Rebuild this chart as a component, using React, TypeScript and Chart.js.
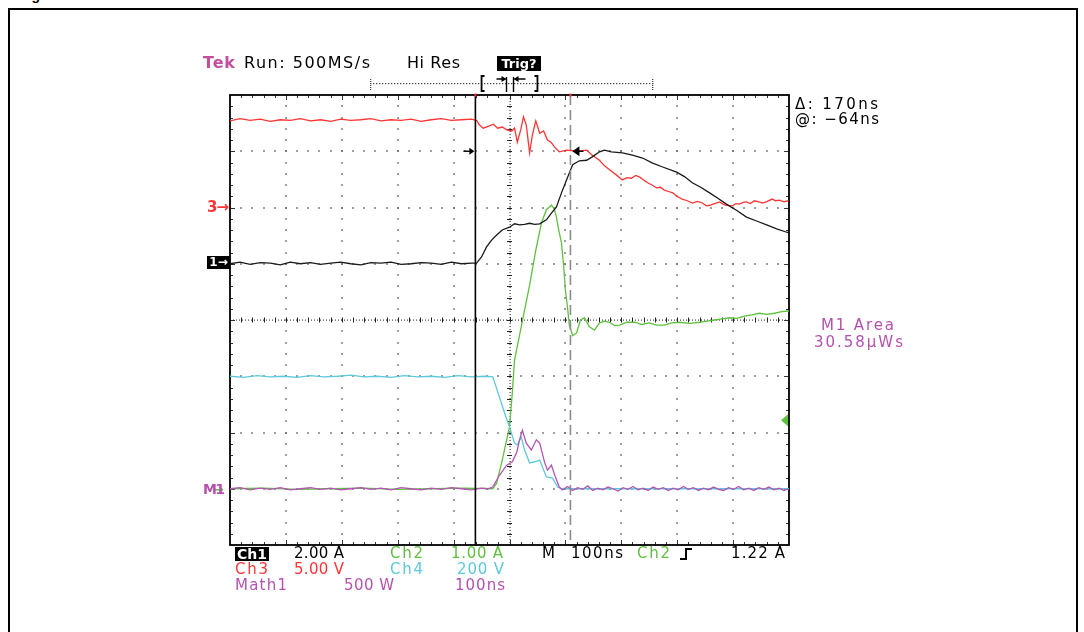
import React, { useEffect, useRef } from 'react';
import { Chart, registerables } from 'chart.js';

Chart.register(...registerables);

const W = 1084;
const H = 632;

// Horizontal: time in ns (100 ns/div, 10 div). Vertical: screen divisions (8 div).
const timeRange = [-500, 500];
const divRange = [-4, 4];

// Ch3 (red, 5.00 V/div) in screen divisions
const ch3Trace: [number, number][] = [
  [-500, 3.54], [-482, 3.58], [-464, 3.55], [-446, 3.57], [-428, 3.53], [-410, 3.56], [-392, 3.55], [-374, 3.58],
  [-356, 3.54], [-338, 3.56], [-320, 3.53], [-302, 3.57], [-284, 3.55], [-266, 3.56], [-248, 3.58], [-230, 3.54],
  [-212, 3.56], [-194, 3.55], [-176, 3.57], [-158, 3.53], [-140, 3.56], [-122, 3.58], [-104, 3.55], [-86, 3.56],
  [-68, 3.57], [-59, 3.55], [-54, 3.47], [-47, 3.41], [-36, 3.45], [-29, 3.48], [-21, 3.41], [-13, 3.43],
  [-5, 3.38], [4, 3.36], [9, 3.41], [14, 3.16], [20, 3.38], [25, 3.61], [30, 3.47], [36, 2.97], [41, 3.29],
  [47, 3.54], [54, 3.32], [61, 3.36], [68, 3.2], [75, 3.15], [82, 3.06], [89, 2.99], [102, 3.02], [120, 3.0],
  [138, 3.02], [148, 2.93], [161, 2.84], [170, 2.74], [179, 2.67], [191, 2.58], [202, 2.49], [210, 2.53],
  [218, 2.52], [226, 2.57], [233, 2.54], [240, 2.49], [247, 2.44], [255, 2.4], [263, 2.35], [270, 2.36],
  [277, 2.31], [286, 2.28], [292, 2.26], [299, 2.2], [309, 2.15], [318, 2.12], [327, 2.08], [336, 2.11],
  [345, 2.08], [352, 2.03], [358, 2.04], [367, 2.07], [376, 2.1], [382, 2.06], [388, 2.04], [399, 2.03],
  [405, 2.07], [411, 2.06], [418, 2.09], [424, 2.1], [431, 2.07], [438, 2.12], [446, 2.1], [453, 2.08],
  [461, 2.11], [470, 2.15], [476, 2.12], [483, 2.13], [491, 2.1], [499, 2.12],
];

// Ch1 (black, 2.00 A/div)
const ch1Trace: [number, number][] = [
  [-500, 1.0], [-482, 1.03], [-464, 0.99], [-446, 1.02], [-428, 1.01], [-410, 0.98], [-392, 1.03], [-374, 1.0],
  [-356, 1.02], [-338, 0.99], [-320, 1.01], [-302, 1.03], [-284, 1.0], [-266, 0.98], [-248, 1.02], [-230, 1.01],
  [-212, 1.03], [-194, 0.99], [-176, 1.0], [-158, 1.02], [-140, 1.01], [-122, 0.99], [-104, 1.03], [-86, 1.0],
  [-68, 1.01], [-59, 1.01], [-50, 1.12], [-41, 1.3], [-32, 1.42], [-23, 1.51], [-13, 1.6], [0, 1.65], [9, 1.71],
  [18, 1.69], [27, 1.7], [36, 1.72], [45, 1.7], [54, 1.71], [66, 1.78], [75, 1.9], [84, 2.01], [93, 2.26],
  [102, 2.49], [113, 2.76], [125, 2.83], [138, 2.84], [148, 2.9], [161, 2.99], [170, 3.02], [182, 2.99],
  [202, 2.97], [220, 2.93], [238, 2.88], [256, 2.79], [274, 2.72], [299, 2.63], [313, 2.55], [327, 2.44],
  [342, 2.36], [358, 2.26], [372, 2.17], [388, 2.06], [406, 1.95], [424, 1.83], [442, 1.76], [460, 1.69],
  [478, 1.62], [496, 1.56], [500, 1.55],
];

// Ch2 (green, 1.00 A/div)
const ch2Trace: [number, number][] = [
  [-500, -3.0], [-440, -2.99], [-380, -3.01], [-320, -3.0], [-260, -2.99], [-200, -3.01], [-140, -3.0],
  [-80, -2.99], [-30, -3.0], [-23, -2.9], [-13, -2.49], [0, -1.9], [5, -1.3], [9, -0.71], [18, -0.27],
  [27, 0.18], [36, 0.62], [47, 1.24], [57, 1.72], [66, 1.96], [75, 2.04], [80, 1.98], [84, 1.83], [88, 1.6],
  [93, 1.37], [97, 0.95], [100, 0.53], [104, 0.2], [107, -0.09], [113, -0.28], [120, -0.23], [127, 0.0],
  [134, 0.04], [143, -0.12], [152, -0.18], [161, -0.05], [170, -0.02], [179, -0.04], [188, -0.1], [197, -0.09],
  [210, -0.04], [224, -0.04], [237, -0.08], [250, -0.05], [263, -0.09], [277, -0.09], [290, -0.05], [304, -0.04],
  [322, -0.06], [340, -0.04], [353, -0.02], [367, 0.0], [380, 0.02], [394, 0.04], [407, 0.03], [420, 0.07],
  [434, 0.09], [447, 0.12], [460, 0.1], [474, 0.12], [487, 0.15], [500, 0.16],
];

// Ch4 (cyan, 200 V/div)
const ch4Trace: [number, number][] = [
  [-500, -1.0], [-476, -1.02], [-452, -0.99], [-428, -1.01], [-404, -1.0], [-380, -1.02], [-356, -0.99],
  [-332, -1.01], [-308, -1.0], [-284, -0.98], [-260, -1.01], [-236, -1.0], [-212, -1.02], [-188, -0.99],
  [-164, -1.01], [-140, -1.0], [-116, -1.02], [-92, -0.99], [-68, -1.01], [-44, -1.0], [-30, -1.01],
  [-18, -1.37], [-9, -1.65], [0, -1.9], [9, -2.19], [14, -2.22], [21, -2.08], [27, -2.31], [36, -2.54],
  [45, -2.52], [54, -2.49], [66, -2.79], [77, -2.81], [86, -2.97], [93, -3.0], [150, -3.0], [250, -3.0],
  [350, -3.0], [450, -3.0], [500, -3.0],
];

// Math1 (magenta, 500 W/div)
const math1Trace: [number, number][] = [
  [-500, -3.0], [-482, -2.98], [-464, -3.02], [-446, -2.99], [-428, -3.01], [-410, -2.98], [-392, -3.02],
  [-374, -3.0], [-356, -2.98], [-338, -3.01], [-320, -2.99], [-302, -3.02], [-284, -3.0], [-266, -2.98],
  [-248, -3.01], [-230, -2.99], [-212, -3.02], [-194, -2.98], [-176, -3.0], [-158, -3.02], [-140, -2.99],
  [-122, -3.01], [-104, -2.98], [-86, -3.0], [-68, -3.02], [-50, -2.99], [-39, -3.0], [-30, -2.97],
  [-18, -2.76], [-5, -2.58], [5, -2.52], [13, -2.35], [18, -2.13], [23, -1.96], [30, -2.19], [39, -2.31],
  [48, -2.13], [54, -2.19], [63, -2.54], [68, -2.67], [75, -2.58], [81, -2.76], [89, -2.97], [95, -3.02],
  [104, -2.96], [113, -3.03], [122, -2.98], [131, -3.01], [140, -2.95], [149, -3.03], [158, -2.99],
  [167, -3.02], [176, -2.97], [185, -3.0], [194, -3.04], [203, -2.98], [212, -3.01], [221, -2.96],
  [230, -3.02], [239, -2.99], [248, -3.03], [257, -2.97], [266, -3.01], [275, -2.98], [284, -3.03],
  [293, -2.99], [302, -3.02], [311, -2.96], [320, -3.01], [329, -2.98], [338, -3.03], [347, -2.99],
  [356, -3.02], [365, -2.97], [374, -3.01], [383, -3.03], [392, -2.98], [401, -3.01], [410, -2.96],
  [419, -3.02], [428, -2.99], [437, -3.03], [446, -2.98], [455, -3.01], [464, -2.97], [473, -3.02],
  [482, -2.99], [491, -3.03], [499, -3.0],
];

const cursorTimes = [-61, 109];
const triggerLevelDiv = -1.78;
const barMarkerDiv = 3;

const COLORS = {
  ch1: '#1a1a1a',
  ch2: '#5fc040',
  ch3: '#ff3535',
  ch4: '#5cc9dc',
  math: '#b555b3',
  magentaText: '#b552b0',
  tek: '#c24f9e',
};

const FONT = '"DejaVu Sans", Verdana, sans-serif';
const measureCtx = typeof document !== 'undefined' ? document.createElement('canvas').getContext('2d') : null;

function spacingFor(text: string, size: number, bold: boolean, w?: number) {
  if (!w || !measureCtx || text.length < 2) return 0;
  measureCtx.font = `${bold ? 'bold ' : ''}${size}px ${FONT}`;
  const m = measureCtx.measureText(text).width;
  return (w - m) / (text.length - 1);
}

function Txt(props: { x: number; base: number; size: number; text: string; color?: string; w?: number; bold?: boolean }) {
  const { x, base, size, text, color = '#000', w, bold = false } = props;
  const ls = spacingFor(text, size, bold, w);
  return (
    <div
      style={{
        position: 'absolute',
        left: x,
        top: base - 0.846 * size,
        fontFamily: FONT,
        fontSize: size,
        fontWeight: bold ? 700 : 400,
        lineHeight: `${size}px`,
        height: size,
        color,
        letterSpacing: ls,
        whiteSpace: 'pre',
      }}
    >
      {text}
    </div>
  );
}

function Box(props: { x: number; y: number; w: number; h: number; text: string; size: number }) {
  const { x, y, w, h, text, size } = props;
  return (
    <div
      style={{
        position: 'absolute',
        left: x,
        top: y,
        width: w,
        height: h,
        background: '#000',
        color: '#fff',
        fontFamily: FONT,
        fontWeight: 700,
        fontSize: size,
        lineHeight: `${h}px`,
        textAlign: 'center',
        whiteSpace: 'pre',
        overflow: 'hidden',
      }}
    >
      {text}
    </div>
  );
}

const scopePlugin = {
  id: 'scopeGraticule',
  beforeDatasetsDraw(chart: any) {
    const { ctx, chartArea: a } = chart;
    const dx = (a.right - a.left) / 10;
    const dy = (a.bottom - a.top) / 8;
    ctx.save();
    ctx.fillStyle = '#6a6a6a';
    for (let i = 1; i < 10; i++) {
      if (i === 5) continue;
      const x = a.left + i * dx;
      for (let k = 1; k < 40; k++) {
        const y = a.top + (k * dy) / 5;
        ctx.fillRect(Math.round(x) - 0.8, Math.round(y) - 0.8, 1.6, 1.6);
      }
    }
    for (let j = 1; j < 8; j++) {
      if (j === 4) continue;
      const y = a.top + j * dy;
      for (let k = 1; k < 50; k++) {
        const x = a.left + (k * dx) / 5;
        ctx.fillRect(Math.round(x) - 0.8, Math.round(y) - 0.8, 1.6, 1.6);
      }
    }
    const cx = a.left + 5 * dx;
    const cy = a.top + 4 * dy;
    ctx.fillStyle = '#444';
    for (let x = a.left; x <= a.right; x += 3) ctx.fillRect(Math.round(x), Math.round(cy) - 0.5, 1, 1.2);
    for (let y = a.top; y <= a.bottom; y += 3) ctx.fillRect(Math.round(cx) - 0.5, Math.round(y), 1.2, 1);
    ctx.strokeStyle = '#222';
    ctx.lineWidth = 1;
    ctx.beginPath();
    for (let k = 1; k < 50; k++) {
      const x = Math.round(a.left + (k * dx) / 5) + 0.5;
      ctx.moveTo(x, cy - 2.5);
      ctx.lineTo(x, cy + 2.5);
    }
    for (let k = 1; k < 40; k++) {
      const y = Math.round(a.top + (k * dy) / 5) + 0.5;
      ctx.moveTo(cx - 2.5, y);
      ctx.lineTo(cx + 2.5, y);
    }
    ctx.stroke();
    ctx.strokeStyle = '#333';
    ctx.beginPath();
    for (let k = 1; k < 50; k++) {
      const x = Math.round(a.left + (k * dx) / 5) + 0.5;
      const len = k % 5 === 0 ? 5 : 3;
      ctx.moveTo(x, a.top);
      ctx.lineTo(x, a.top + len);
      ctx.moveTo(x, a.bottom);
      ctx.lineTo(x, a.bottom - len);
    }
    for (let k = 1; k < 40; k++) {
      const y = Math.round(a.top + (k * dy) / 5) + 0.5;
      const len = k % 5 === 0 ? 5 : 3;
      ctx.moveTo(a.left, y);
      ctx.lineTo(a.left + len, y);
      ctx.moveTo(a.right, y);
      ctx.lineTo(a.right - len, y);
    }
    ctx.stroke();
    ctx.strokeStyle = '#000';
    ctx.lineWidth = 1.8;
    ctx.strokeRect(a.left, a.top, a.right - a.left, a.bottom - a.top);
    ctx.restore();
  },
  afterDatasetsDraw(chart: any) {
    const { ctx, chartArea: a, scales } = chart;
    const xs = scales.x;
    const ys = scales.y;
    const dx = (a.right - a.left) / 10;
    const c1 = xs.getPixelForValue(cursorTimes[0]);
    const c2 = xs.getPixelForValue(cursorTimes[1]);
    ctx.save();
    ctx.strokeStyle = '#000';
    ctx.lineWidth = 1.6;
    ctx.beginPath();
    ctx.moveTo(c1, a.top);
    ctx.lineTo(c1, a.bottom);
    ctx.stroke();
    ctx.strokeStyle = '#8c8c8c';
    ctx.setLineDash([10, 5]);
    ctx.beginPath();
    ctx.moveTo(c2, a.top);
    ctx.lineTo(c2, a.bottom);
    ctx.stroke();
    ctx.setLineDash([]);
    ctx.fillStyle = '#ff3030';
    ctx.fillRect(c1 - 1, a.top - 1.5, 2, 3);
    ctx.fillRect(c2 - 1, a.top - 1.5, 2, 3);
    const yb = ys.getPixelForValue(barMarkerDiv);
    ctx.strokeStyle = '#000';
    ctx.fillStyle = '#000';
    ctx.lineWidth = 1.4;
    ctx.beginPath();
    ctx.moveTo(c1 - 12, yb);
    ctx.lineTo(c1 - 3, yb);
    ctx.stroke();
    ctx.beginPath();
    ctx.moveTo(c1 - 1, yb);
    ctx.lineTo(c1 - 6, yb - 3.5);
    ctx.lineTo(c1 - 6, yb + 3.5);
    ctx.closePath();
    ctx.fill();
    ctx.beginPath();
    ctx.moveTo(c2 + 2, yb);
    ctx.lineTo(c2 + 9, yb - 5);
    ctx.lineTo(c2 + 9, yb + 5);
    ctx.closePath();
    ctx.fill();
    ctx.beginPath();
    ctx.moveTo(c2 + 8, yb);
    ctx.lineTo(c2 + 13, yb);
    ctx.stroke();
    const yt = ys.getPixelForValue(triggerLevelDiv);
    ctx.fillStyle = COLORS.ch2;
    ctx.beginPath();
    ctx.moveTo(a.right - 8, yt);
    ctx.lineTo(a.right - 1, yt - 6);
    ctx.lineTo(a.right - 1, yt + 6);
    ctx.closePath();
    ctx.fill();
    const ry = a.top - 12;
    const rx0 = a.left + 2.5 * dx;
    const rx1 = a.left + 7.55 * dx;
    ctx.fillStyle = '#444';
    for (let x = rx0; x <= rx1; x += 3) ctx.fillRect(Math.round(x), Math.round(ry), 1.3, 1.2);
    for (let y = ry - 4; y <= ry + 6; y += 2) {
      ctx.fillRect(Math.round(rx0), y, 1.3, 1);
      ctx.fillRect(Math.round(rx1), y, 1.3, 1);
    }
    const b0 = a.left + 4.5 * dx;
    const b1 = a.left + 5.5 * dx;
    const cx = a.left + 5 * dx;
    ctx.strokeStyle = '#000';
    ctx.lineWidth = 1.8;
    ctx.beginPath();
    ctx.moveTo(b0 + 3, ry - 7);
    ctx.lineTo(b0, ry - 7);
    ctx.lineTo(b0, ry + 8);
    ctx.lineTo(b0 + 3, ry + 8);
    ctx.moveTo(b1 - 3, ry - 7);
    ctx.lineTo(b1, ry - 7);
    ctx.lineTo(b1, ry + 8);
    ctx.lineTo(b1 - 3, ry + 8);
    ctx.stroke();
    ctx.lineWidth = 1.4;
    ctx.beginPath();
    ctx.moveTo(cx - 3, ry - 6);
    ctx.lineTo(cx - 3, ry + 9);
    ctx.moveTo(cx + 4, ry - 6);
    ctx.lineTo(cx + 4, ry + 9);
    ctx.moveTo(cx - 13, ry - 4);
    ctx.lineTo(cx - 4, ry - 4);
    ctx.moveTo(cx + 16, ry - 4);
    ctx.lineTo(cx + 5, ry - 4);
    ctx.stroke();
    ctx.fillStyle = '#000';
    ctx.beginPath();
    ctx.moveTo(cx - 3, ry - 4);
    ctx.lineTo(cx - 8, ry - 7);
    ctx.lineTo(cx - 8, ry - 1);
    ctx.closePath();
    ctx.moveTo(cx + 4, ry - 4);
    ctx.lineTo(cx + 9, ry - 7);
    ctx.lineTo(cx + 9, ry - 1);
    ctx.closePath();
    ctx.fill();
    ctx.restore();
  },
};

function toXY(trace: [number, number][]) {
  return trace.map(([t, v]) => ({ x: t, y: v }));
}

function ScopeChart() {
  const ref = useRef<HTMLCanvasElement | null>(null);
  useEffect(() => {
    if (!ref.current) return;
    const ds = (data: [number, number][], color: string) => ({
      data: toXY(data),
      borderColor: color,
      borderWidth: 1.3,
      pointRadius: 0,
      tension: 0,
      fill: false,
    });
    const chart = new Chart(ref.current, {
      type: 'line',
      data: {
        datasets: [
          ds(math1Trace, COLORS.math),
          ds(ch1Trace, COLORS.ch1),
          ds(ch3Trace, COLORS.ch3),
          ds(ch4Trace, COLORS.ch4),
          ds(ch2Trace, COLORS.ch2),
        ],
      },
      options: {
        animation: false,
        responsive: false,
        maintainAspectRatio: false,
        events: [],
        layout: { padding: { left: 230, top: 95, right: W - 789, bottom: H - 545 } },
        scales: {
          x: { type: 'linear', min: timeRange[0], max: timeRange[1], display: false },
          y: { type: 'linear', min: divRange[0], max: divRange[1], display: false },
        },
        plugins: { legend: { display: false }, tooltip: { enabled: false } },
      },
      plugins: [scopePlugin],
    } as any);
    return () => chart.destroy();
  }, []);
  return <canvas ref={ref} width={W} height={H} style={{ position: 'absolute', left: 0, top: 0, width: W, height: H }} />;
}

export default function App() {
  return (
    <div style={{ position: 'absolute', left: 0, top: 0, width: W, height: H, overflow: 'hidden', background: '#fff' }}>
      <div
        style={{
          position: 'absolute',
          left: 19,
          top: -12,
          fontFamily: '"Liberation Sans", Arial, sans-serif',
          fontWeight: 700,
          fontSize: 14,
          lineHeight: '14px',
          whiteSpace: 'pre',
        }}
      >
        Figure
      </div>
      <div
        style={{
          position: 'absolute',
          left: 8,
          top: 7.5,
          width: 1070,
          height: 700,
          border: '2.5px solid #000',
          boxSizing: 'border-box',
        }}
      />
      <ScopeChart />

      {/* header */}
      <Txt x={203} base={69} size={16} text="Tek" color={COLORS.tek} w={32} bold />
      <Txt x={244} base={69} size={16} text="Run: 500MS/s" w={126} />
      <Txt x={407} base={69} size={16} text="Hi Res" w={53} />
      <Box x={497} y={56} w={44} h={15} text="Trig?" size={13} />

      {/* cursor readout */}
      <Txt x={795} base={110} size={15} text="Δ: 170ns" w={83} />
      <Txt x={795} base={125} size={15} text="@: −64ns" w={84} />

      {/* measurement */}
      <Txt x={821} base={331} size={15} text="M1 Area" color={COLORS.magentaText} w={73} />
      <Txt x={814} base={348} size={15} text="30.58µWs" color={COLORS.magentaText} w={89} />

      {/* ground markers */}
      <Txt x={207} base={213} size={15} text="3→" color={COLORS.ch3} w={22} bold />
      <Box x={207} y={256} w={23} h={13} text="1→" size={12} />
      <Txt x={212} base={494} size={14} text="→" color={COLORS.ch2} w={12} bold />
      <Txt x={203} base={494} size={14} text="M1" color={COLORS.magentaText} w={22} bold />

      {/* bottom status */}
      <Box x={235} y={547} w={34} h={14} text="Ch1" size={14} />
      <Txt x={294} base={559} size={15} text="2.00 A" w={50} />
      <Txt x={390} base={559} size={15} text="Ch2" color={COLORS.ch2} w={33} />
      <Txt x={451} base={559} size={15} text="1.00 A" color={COLORS.ch2} w={52} />
      <Txt x={542} base={559} size={15} text="M" w={13} />
      <Txt x={571} base={559} size={15} text="100ns" w={52} />
      <Txt x={637} base={559} size={15} text="Ch2" color={COLORS.ch2} w={33} />
      <svg style={{ position: 'absolute', left: 679, top: 547, width: 16, height: 14 }} viewBox="0 0 16 14">
        <path d="M1 12 H7 V2 H13" fill="none" stroke="#000" strokeWidth={2} />
      </svg>
      <Txt x={731} base={559} size={15} text="1.22 A" w={54} />

      <Txt x={235} base={575} size={15} text="Ch3" color={COLORS.ch3} w={33} />
      <Txt x={294} base={575} size={15} text="5.00 V" color={COLORS.ch3} w={50} />
      <Txt x={390} base={575} size={15} text="Ch4" color={COLORS.ch4} w={33} />
      <Txt x={457} base={575} size={15} text="200 V" color={COLORS.ch4} w={47} />

      <Txt x={235} base={591} size={15} text="Math1" color={COLORS.magentaText} w={52} />
      <Txt x={344} base={591} size={15} text="500 W" color={COLORS.magentaText} w={50} />
      <Txt x={455} base={591} size={15} text="100ns" color={COLORS.magentaText} w={50} />
    </div>
  );
}
